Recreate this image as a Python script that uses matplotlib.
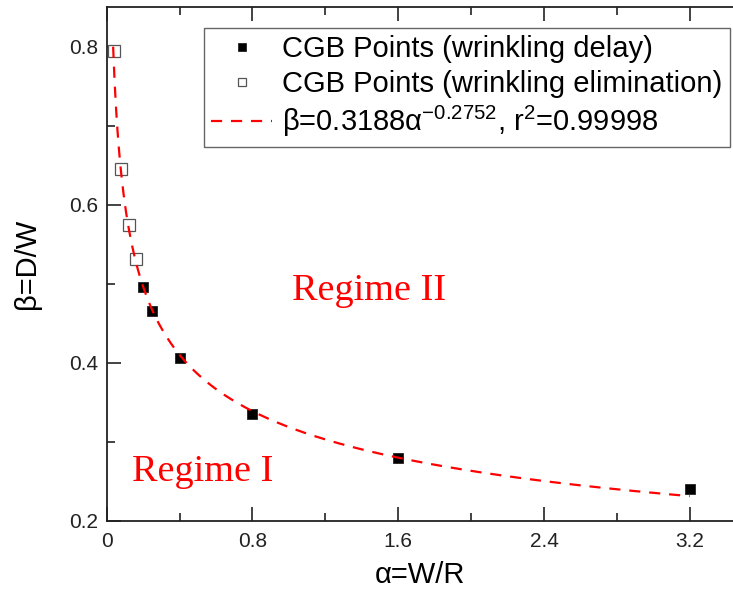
import numpy as np
import matplotlib
matplotlib.use("Agg")
import matplotlib.pyplot as plt
from matplotlib.ticker import MultipleLocator

plt.rcParams['font.family'] = ['Liberation Sans', 'DejaVu Sans']
plt.rcParams['mathtext.fontset'] = 'custom'
plt.rcParams['mathtext.rm'] = 'Liberation Sans'
plt.rcParams['mathtext.it'] = 'Liberation Sans'
plt.rcParams['mathtext.default'] = 'regular'

# data
alpha_delay = [0.2, 0.25, 0.4, 0.8, 1.6, 3.2]
beta_delay = [0.496, 0.466, 0.406, 0.336, 0.280, 0.240]
alpha_elim = [0.04, 0.08, 0.12, 0.16]
beta_elim = [0.795, 0.645, 0.575, 0.531]
fit_coef = 0.3188
fit_exp = -0.2752
fit_range = [0.0353, 3.2]
x_ticks = [0, 0.8, 1.6, 2.4, 3.2]
x_ticklabels = ['0', '0.8', '1.6', '2.4', '3.2']
y_ticks = [0.2, 0.4, 0.6, 0.8]

fig = plt.figure(figsize=(7.33, 5.95), dpi=100)
ax = fig.add_axes([106.7/733, 74/595, 1 - 106.7/733, (521-7.3)/595])

xf = np.linspace(fit_range[0], fit_range[1], 400)
yf = fit_coef * xf ** fit_exp

ax.plot(alpha_delay, beta_delay, 's', color='black', markersize=7.5,
        markeredgecolor='#222222', markeredgewidth=0.6,
        label='CGB Points (wrinkling delay)', zorder=3)
ax.plot(alpha_elim, beta_elim, 's', markerfacecolor='white', markeredgecolor='#555555',
        markersize=8, markeredgewidth=0.9,
        label='CGB Points (wrinkling elimination)', zorder=3)
ax.plot(xf, yf, '--', color='red', linewidth=1.6, dashes=(5, 4),
        label=r'β=0.3188α$^{-0.2752}$, r$^{2}$=0.99998', zorder=4)

ax.set_xlim(0, (733-106.7)/182.2)
ax.set_ylim(0.2, 0.85)
ax.set_xticks(x_ticks)
ax.set_xticklabels(x_ticklabels)
ax.set_yticks(y_ticks)
ax.xaxis.set_minor_locator(MultipleLocator(0.4))
ax.yaxis.set_minor_locator(MultipleLocator(0.1))
ax.tick_params(which='both', direction='in', top=True, right=False, labelsize=15,
               width=1.2, colors='#222222')
ax.tick_params(which='major', length=10)
ax.tick_params(which='minor', length=6)
ax.tick_params(axis='x', pad=8)
ax.tick_params(axis='y', pad=6)
for s in ['left', 'bottom', 'top']:
    ax.spines[s].set_linewidth(1.3)
    ax.spines[s].set_color('#222222')
ax.spines['right'].set_visible(False)

ax.set_xlabel('α=W/R', fontsize=21, labelpad=7)
ax.set_ylabel('β=D/W', fontsize=21, labelpad=20)

ax.text(1.016, 0.48, 'Regime II', color='red', fontsize=27.5,
        family=['Liberation Serif'], ha='left', va='baseline')
ax.text(0.137, 0.251, 'Regime I', color='red', fontsize=27.5,
        family=['Liberation Serif'], ha='left', va='baseline')

leg = ax.legend(loc='upper right', bbox_to_anchor=(730/733, (595-28)/595),
                bbox_transform=fig.transFigure, borderaxespad=0,
                fontsize=21, fancybox=False, framealpha=1, edgecolor='#666666',
                handlelength=2.1, handletextpad=0.35, labelspacing=0.22,
                borderpad=0.25, markerscale=0.8)
leg.get_frame().set_linewidth(1.0)

fig.savefig('out.png', dpi=100)
